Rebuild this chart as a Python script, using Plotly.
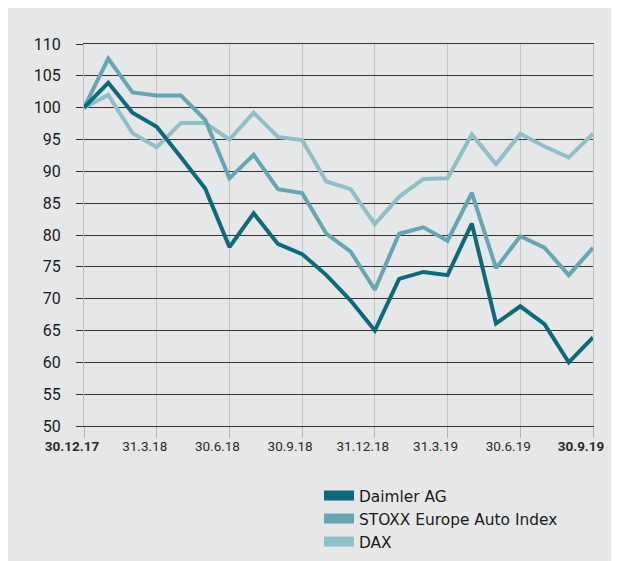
import plotly.graph_objects as go

months = ["Dec 17", "Jan 18", "Feb 18", "Mar 18", "Apr 18", "May 18", "Jun 18",
          "Jul 18", "Aug 18", "Sep 18", "Oct 18", "Nov 18", "Dec 18", "Jan 19",
          "Feb 19", "Mar 19", "Apr 19", "May 19", "Jun 19", "Jul 19", "Aug 19", "Sep 19"]
daimler = [100, 103.9, 99.2, 97.0, 92.2, 87.3, 78.1, 83.4, 78.6, 77.0, 73.7, 69.7,
           65.0, 73.1, 74.2, 73.7, 81.8, 66.1, 68.8, 66.0, 60.0, 63.9]
stoxx = [100, 107.7, 102.4, 101.9, 101.9, 98.1, 88.9, 92.6, 87.2, 86.6, 80.2, 77.4,
         71.4, 80.2, 81.2, 79.1, 86.6, 74.8, 79.8, 78.0, 73.7, 78.0]
dax = [100, 102.0, 96.0, 93.8, 97.6, 97.6, 95.0, 99.2, 95.4, 94.9, 88.4, 87.2,
       81.7, 86.0, 88.8, 88.9, 95.8, 91.1, 95.9, 93.9, 92.2, 95.9]
tick_months = ["Dec 17", "Mar 18", "Jun 18", "Sep 18", "Dec 18", "Mar 19", "Jun 19", "Sep 19"]
tick_labels = ["<b>30.12.17</b>", "31.3.18", "30.6.18", "30.9.18", "31.12.18",
               "31.3.19", "30.6.19", "<b>30.9.19</b>"]
y_ticks = list(range(50, 111, 5))

names = ["Daimler AG", "STOXX Europe Auto Index", "DAX"]
colors = ["#0b6a7c", "#64a6b4", "#8fc0c9"]
series = [daimler, stoxx, dax]

fig = go.Figure()
for name, vals, col in reversed(list(zip(names, series, colors))):
    fig.add_trace(go.Scatter(x=months, y=vals, mode="lines", name=name,
                             line=dict(color=col, width=4), showlegend=False))
for i, (name, col) in enumerate(zip(names, colors)):
    fig.add_trace(go.Scatter(x=[None], y=[None], mode="lines", name=name,
                             line=dict(color=col, width=10), legendrank=i + 1))

# page is offset by the 8px body margin
W, H = 611, 553
L, R, T, B = 76, 26, 36, 135
pw, ph = W - L - R, H - T - B
OFF = 8

def px(x):  # page x -> paper
    return (x - OFF - L) / pw

def py(y):  # page y -> paper
    return (H - B - (y - OFF)) / ph

BG = "#e6e7e9"
fig.update_layout(
    width=W, height=H,
    margin=dict(l=L, r=R, t=T, b=B, autoexpand=False),
    paper_bgcolor=BG, plot_bgcolor=BG,
    font=dict(family="Roboto", color="#1a1a1a"),
    legend=dict(x=px(319), y=py(479), xanchor="left", yanchor="top",
                bgcolor="rgba(0,0,0,0)",
                font=dict(family="DejaVu Sans", size=15.4, color="#1a1a1a"),
                itemwidth=30, tracegroupgap=0),
    xaxis=dict(type="category", categoryorder="array", categoryarray=months,
               range=[0, 21], tickmode="array", tickvals=tick_months, ticktext=tick_labels,
               showgrid=True, gridcolor="#c4c4c4", gridwidth=1,
               ticks="outside", ticklen=11, tickcolor="#b5b5b5", tickwidth=1,
               showline=True, linecolor="#333333", linewidth=1, mirror=True,
               tickfont=dict(size=13.5, color="#2a2a2a"), ticklabelstandoff=-3,
               ticklabelshift=-12,
               zeroline=False, fixedrange=True, automargin=False),
    yaxis=dict(range=[50, 110], tickmode="array", tickvals=y_ticks,
               showgrid=True, gridcolor="#333333", gridwidth=1,
               ticks="outside", ticklen=7, tickcolor="#333333", tickwidth=1,
               showline=True, linecolor="#bdbdbd", linewidth=1, mirror=True,
               tickfont=dict(size=16, color="#1a1a1a"), ticklabelstandoff=12,
               zeroline=False, fixedrange=True, automargin=False),
)
fig.write_html("out.html")
